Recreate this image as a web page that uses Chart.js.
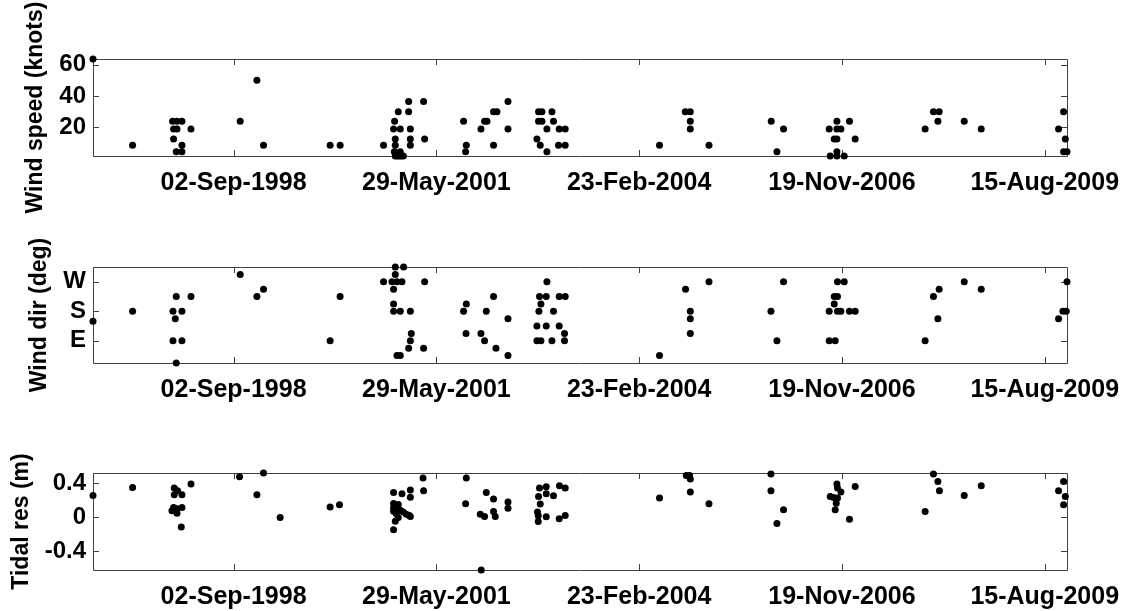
<!DOCTYPE html>
<html>
<head>
<meta charset="utf-8">
<script src="https://cdn.jsdelivr.net/npm/chart.js@4.4.1/dist/chart.umd.min.js"></script>
<style>
  body { margin: 0; background: #fff; }
  #wrap { position: relative; width: 1135px; height: 611px; overflow: hidden; }
  canvas { position: absolute; left: 0; }
</style>
</head>
<body>
<div id="wrap">
  <canvas id="speed" width="1135" height="215" style="top:0"></canvas>
  <canvas id="dir" width="1135" height="205" style="top:215px"></canvas>
  <canvas id="res" width="1135" height="191" style="top:420px"></canvas>
</div>
<script>
// event times as decimal years
const speedYears = [
  1996.77, 1997.304, 1997.845, 1997.904, 1997.971, 1997.858, 1997.904, 1997.858, 1997.971, 1997.894, 1997.971, 1998.093,
  1998.758, 1998.984, 1999.073, 1999.973, 2000.108, 2000.693,
  2000.842, 2000.891, 2000.828, 2000.918, 2000.851, 2000.851, 2000.838, 2000.918, 2000.851, 2000.878, 2000.905, 2000.932, 2000.959,
  2001.031, 2001.031, 2001.054, 2001.054, 2001.054, 2001.233, 2001.247,
  2001.773, 2001.810, 2001.800, 2002.008, 2002.057, 2002.089, 2002.178, 2002.178, 2002.224, 2002.373, 2002.373,
  2002.786, 2002.832, 2002.967, 2002.786, 2002.832, 2002.988, 2002.899, 2003.065, 2003.146, 2002.764, 2002.809, 2002.899, 2003.056, 2003.146,
  2004.419, 2004.766, 2004.834, 2004.834, 2004.834, 2005.086,
  2005.927, 2006.004, 2006.093, 2006.710, 2006.814, 2006.814, 2006.868, 2006.778, 2006.814, 2006.814, 2006.724, 2006.814, 2006.913, 2006.984, 2007.061,
  2008.006, 2008.118, 2008.195, 2008.178, 2008.533, 2008.762,
  2009.806, 2009.874, 2009.897, 2009.874, 2009.92
];
const speedKnots = [
  63.6, 8.6, 24, 24, 24, 19, 19, 12.7, 8.6, 4.5, 4.5, 19,
  24, 50, 8.6, 8.6, 8.6, 8.6,
  24, 30, 19, 19, 12.7, 8.6, 4.5, 4.5, 1.8, 1.8, 1.8, 1.8, 1.8,
  36.6, 30, 19, 12.7, 8.6, 36.6, 12.7,
  24, 8.6, 4.5, 19, 24, 24, 8.6, 30, 30, 36.6, 19,
  30, 30, 30, 24, 24, 24, 19, 19, 19, 12.7, 8.6, 4.5, 8.6, 8.6,
  8.6, 30, 30, 24, 19, 8.6,
  24, 4.5, 19, 19, 24, 19, 19, 12.7, 12.7, 4.5, 1.8, 1.8, 1.8, 24, 12.7,
  19, 30, 30, 24, 24, 19,
  19, 30, 12.7, 4.5, 4.5
];

const dirYears = [
  1996.77, 1997.304, 1997.894, 1998.093, 1997.850, 1997.971, 1997.881, 1997.850, 1997.971, 1997.894,
  1998.758, 1998.984, 1999.073, 2000.108, 1999.973, 2000.693,
  2000.851, 2000.963, 2000.851, 2000.806, 2000.874, 2000.941, 2001.247, 2000.828, 2000.828, 2000.828, 2000.918, 2001.054,
  2001.067, 2001.054, 2001.031, 2001.233, 2000.874, 2000.918,
  2001.810, 2001.773, 2002.178, 2002.080, 2002.373, 2001.806, 2002.008, 2002.057, 2002.211, 2002.373,
  2002.899, 2002.799, 2002.890, 2003.065, 2003.146, 2002.818, 2002.791, 2002.988, 2002.764, 2002.890, 2003.065, 2003.137,
  2002.764, 2002.818, 2002.967, 2003.137,
  2004.419, 2004.770, 2004.834, 2004.834, 2004.834, 2005.086,
  2005.923, 2006.004, 2006.093, 2006.822, 2006.913, 2006.778, 2006.822, 2006.778, 2006.710, 2006.822, 2006.868, 2006.984, 2007.061,
  2006.710, 2006.791,
  2008.006, 2008.118, 2008.195, 2008.178, 2008.533, 2008.762,
  2009.806, 2009.865, 2009.910, 2009.92
];
const dirDeg = [
  150, 180, 225, 225, 180, 180, 157.5, 90, 90, 22.5,
  292.5, 225, 247.5, 225, 90, 270,
  315, 315, 292.5, 270, 270, 270, 270, 247.5, 202.5, 180, 180, 180,
  112.5, 90, 67.5, 67.5, 45, 45,
  202.5, 180, 225, 180, 157.5, 112.5, 112.5, 90, 67.5, 45,
  270, 225, 225, 225, 225, 202.5, 180, 180, 135, 135, 135, 112.5,
  90, 90, 90, 90,
  45, 247.5, 180, 157.5, 112.5, 270,
  180, 90, 270, 270, 270, 225, 225, 202.5, 180, 180, 180, 180, 180,
  90, 90,
  90, 225, 247.5, 157.5, 270, 247.5,
  157.5, 180, 180, 270
];

const resYears = [
  1996.77, 1997.304, 1997.867, 1997.912, 1997.867, 1997.971, 1997.858, 1997.904, 1997.971, 1997.836, 1997.904, 1997.962,
  1998.093, 1998.749, 1999.073, 1998.984, 1999.298, 1999.973, 2000.099,
  2000.828, 2000.941, 2001.054, 2001.054, 2001.225, 2001.233, 2000.828, 2000.891, 2000.828, 2000.878, 2000.828, 2000.918,
  2000.959, 2000.864, 2001.000, 2001.040, 2001.054, 2000.891, 2000.851, 2000.828,
  2001.810, 2001.800, 2001.999, 2002.057, 2002.080, 2002.178, 2002.178, 2002.201, 2002.373, 2002.373, 2002.012,
  2002.799, 2002.890, 2002.786, 2002.890, 2002.988, 2003.069, 2003.146, 2002.809, 2002.772, 2002.782, 2002.782, 2002.890,
  2003.065, 2003.146,
  2004.419, 2004.780, 2004.824, 2004.834, 2004.834, 2005.086,
  2005.923, 2005.923, 2006.004, 2006.093, 2006.814, 2006.822, 2006.868, 2006.724, 2006.769, 2006.822, 2006.805, 2006.791,
  2007.061, 2006.984,
  2008.006, 2008.118, 2008.178, 2008.199, 2008.533, 2008.762,
  2009.874, 2009.806, 2009.897, 2009.874
];
const resMetres = [
  0.255, 0.35, 0.343, 0.31, 0.263, 0.263, 0.113, 0.098, 0.113, 0.074, 0.047, -0.115,
  0.39, 0.476, 0.52, 0.263, -0.005, 0.118, 0.145,
  0.29, 0.275, 0.32, 0.235, 0.46, 0.31, 0.16, 0.15, 0.11, 0.09, 0.07, 0.08,
  0.06, 0.04, 0.035, 0.02, 0.007, -0.005, -0.05, -0.15,
  0.46, 0.157, 0.035, 0.007, 0.29, 0.213, 0.066, 0.007, 0.177, 0.106, -0.623,
  0.343, 0.358, 0.243, 0.275, 0.252, 0.37, 0.343, 0.154, 0.059, 0.015, -0.052, 0.004,
  -0.02, 0.019,
  0.225, 0.49, 0.49, 0.45, 0.295, 0.157,
  0.508, 0.31, -0.075, 0.086, 0.39, 0.343, 0.295, 0.243, 0.232, 0.225, 0.165, 0.086,
  0.362, -0.024,
  0.066, 0.508, 0.42, 0.31, 0.255, 0.37,
  0.42, 0.31, 0.243, 0.145
];

const tickDates = ['1998-09-02', '2001-05-29', '2004-02-23', '2006-11-19', '2009-08-15'];
const speedTicks = [20, 40, 60];
const dirTicks = [90, 180, 270];
const dirTickLabels = ['E', 'S', 'W'];
const resTicks = [-0.4, 0, 0.4];

const monthNames = ['Jan', 'Feb', 'Mar', 'Apr', 'May', 'Jun', 'Jul', 'Aug', 'Sep', 'Oct', 'Nov', 'Dec'];

function yearToMs(yr) {
  const y = Math.floor(yr);
  const start = Date.UTC(y, 0, 1), end = Date.UTC(y + 1, 0, 1);
  return start + (yr - y) * (end - start);
}

function fmtDate(ms) {
  const d = new Date(ms);
  return String(d.getUTCDate()).padStart(2, '0') + '-' + monthNames[d.getUTCMonth()] + '-' + d.getUTCFullYear();
}

const allYears = speedYears.concat(dirYears, resYears);
const xMin = yearToMs(Math.min(...allYears));
const xMax = yearToMs(Math.max(...allYears));
const tickMs = tickDates.map(s => Date.parse(s));

const FONT = "'Liberation Sans', Arial, Helvetica, sans-serif";

// box round the plot area with inward ticks on all four sides
const boxTicks = {
  id: 'boxTicks',
  beforeDatasetsDraw(chart) {
    const {ctx, chartArea: a, scales: {x, y}} = chart;
    const len = 6;
    ctx.save();
    ctx.strokeStyle = '#404040';
    ctx.lineWidth = 1;
    ctx.beginPath();
    ctx.rect(Math.round(a.left) + 0.5, Math.round(a.top) + 0.5, Math.round(a.width), Math.round(a.height));
    x.ticks.forEach(t => {
      const px = Math.round(x.getPixelForValue(t.value)) + 0.5;
      ctx.moveTo(px, a.bottom); ctx.lineTo(px, a.bottom - len);
      ctx.moveTo(px, a.top); ctx.lineTo(px, a.top + len);
    });
    y.ticks.forEach(t => {
      const py = Math.round(y.getPixelForValue(t.value)) + 0.5;
      ctx.moveTo(a.left, py); ctx.lineTo(a.left + len, py);
      ctx.moveTo(a.right, py); ctx.lineTo(a.right - len, py);
    });
    ctx.stroke();
    ctx.restore();
  }
};

function makePanel(id, years, values, yTicks, yFormat, yLabel, opts) {
  const points = years.map((t, i) => ({x: yearToMs(t), y: values[i]}));
  return new Chart(document.getElementById(id), {
    type: 'scatter',
    data: {
      datasets: [{
        data: points,
        pointRadius: 3.5,
        pointHoverRadius: 3.5,
        backgroundColor: '#000',
        borderWidth: 0,
        clip: false
      }]
    },
    options: {
      responsive: false,
      animation: false,
      events: [],
      layout: { padding: { top: opts.top, right: 68, left: 0, bottom: 0 } },
      plugins: { legend: { display: false }, tooltip: { enabled: false } },
      scales: {
        x: {
          type: 'linear',
          min: xMin,
          max: xMax,
          grid: { display: false, drawTicks: false },
          border: { display: false },
          afterBuildTicks: s => { s.ticks = tickMs.map(v => ({value: v})); },
          afterFit: s => { s.height = opts.xHeight; },
          ticks: {
            callback: v => fmtDate(v),
            autoSkip: false,
            maxRotation: 0,
            padding: 12,
            color: '#000',
            font: { family: FONT, size: 25, weight: 'bold' }
          }
        },
        y: {
          min: Math.min(...values),
          max: Math.max(...values),
          grid: { display: false, drawTicks: false },
          border: { display: false },
          afterBuildTicks: s => { s.ticks = yTicks.map(v => ({value: v})); },
          afterFit: s => { s.width = 93; },
          ticks: {
            callback: yFormat,
            padding: 7,
            color: '#000',
            font: { family: FONT, size: 24, weight: 'bold' }
          },
          title: {
            display: true,
            text: yLabel,
            color: '#000',
            font: { family: FONT, size: 23, weight: 'bold' },
            padding: { top: opts.titlePad, bottom: 0 }
          }
        }
      }
    },
    plugins: [boxTicks]
  });
}

makePanel('speed', speedYears, speedKnots, speedTicks, v => String(v),
  'Wind speed (knots)', { top: 59, xHeight: 59, titlePad: 22 });
makePanel('dir', dirYears, dirDeg, dirTicks, v => dirTickLabels[dirTicks.indexOf(v)],
  'Wind dir (deg)', { top: 52, xHeight: 57, titlePad: 26 });
makePanel('res', resYears, resMetres, resTicks, v => String(v),
  'Tidal res (m)', { top: 53, xHeight: 41, titlePad: 8 });
</script>
</body>
</html>
